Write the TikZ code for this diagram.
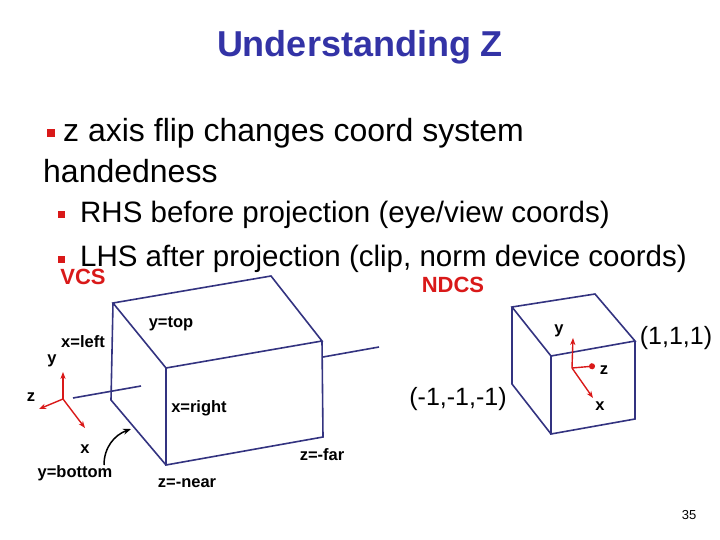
\documentclass[tikz,border=0pt]{standalone}
\usepackage{fontspec}
\setmainfont{Liberation Sans}
\usetikzlibrary{arrows.meta}
\definecolor{navy}{rgb}{0.2,0.2,0.5}
\definecolor{titleblue}{rgb}{0.2,0.2,0.65}
\definecolor{slidered}{rgb}{0.85,0.1,0.1}
\tikzset{
  edge/.style={navy,line width=1.6pt},
  axis/.style={slidered,line width=1.4pt,-{Stealth[length=7pt]}},
  lbl/.style={font=\bfseries\fontsize{16.5}{16.5}\selectfont,inner sep=0pt},
  bullet/.style={fill=slidered,minimum size=8pt,inner sep=0pt},
}
\begin{document}
\begin{tikzpicture}[x=1pt,y=-1pt]
\useasboundingbox (0,0) rectangle (720,540);
% title and bullets
\node[titleblue,font=\bfseries\fontsize{36}{36}\selectfont] (title) at (360,47) {Understanding Z};
\node[bullet] (b1) at (51,133) {};
\node[anchor=west,inner sep=0pt,font=\fontsize{32}{32}\selectfont] (t1) at (63,133) {z axis flip changes coord system};
\node[anchor=west,inner sep=0pt,font=\fontsize{32}{32}\selectfont] (t1b) at (43,171) {handedness};
\node[bullet,minimum size=7pt] (b2) at (61,215) {};
\node[anchor=west,inner sep=0pt,font=\fontsize{29.5}{29.5}\selectfont] (t2) at (80,215) {RHS before projection (eye/view coords)};
\node[bullet,minimum size=7pt] (b3) at (61,259) {};
\node[anchor=west,inner sep=0pt,font=\fontsize{29.5}{29.5}\selectfont] (t3) at (80,259) {LHS after projection (clip, norm device coords)};
\node[slidered,font=\bfseries\fontsize{22}{22}\selectfont] (vcs) at (83,277) {VCS};
\node[slidered,font=\bfseries\fontsize{22}{22}\selectfont] (ndcs) at (453,285) {NDCS};
% view volume
\coordinate (A) at (113,303); \coordinate (B) at (271,276);
\coordinate (C) at (322,341); \coordinate (D) at (166,368);
\coordinate (E) at (166,465); \coordinate (F) at (323,437);
\coordinate (G) at (111,400);
\draw[edge] (A) -- (B) -- (C) -- (D) -- cycle;
\draw[edge] (D) -- (E) -- (F) -- (C);
\draw[edge] (A) -- (G) -- (E);
\coordinate (la) at (73,398); \coordinate (lb) at (141,386);
\coordinate (ra) at (323,357); \coordinate (rb) at (379,347);
\draw[edge] (la) -- (lb);
\draw[edge] (ra) -- (rb);
% NDC cube
\coordinate (P) at (512,307); \coordinate (Q) at (595,294);
\coordinate (R) at (635,341); \coordinate (S) at (551,356);
\coordinate (T) at (551,434); \coordinate (U) at (635,419);
\coordinate (V) at (512,384);
\draw[edge] (P) -- (Q) -- (R) -- (S) -- cycle;
\draw[edge] (S) -- (T) -- (U) -- (R);
\draw[edge] (P) -- (V) -- (T);
% axes
\coordinate (o1) at (63,399);
\draw[axis] (o1) -- (63,372);
\draw[axis] (o1) -- (39,409);
\draw[axis] (o1) -- (85,428);
\coordinate (o2) at (572,368);
\draw[axis] (o2) -- (573,338);
\draw[axis,-{Circle[length=6pt]}] (o2) -- (595,366);
\draw[axis] (o2) -- (593,398);
% curved pointer
\coordinate (cp) at (131,429);
\node[lbl] (yb) at (75,473) {y=bottom};
\draw[line width=1.5pt,-{Stealth[length=8pt]}] (104,465) to[out=90,in=200] (cp);
% labels
\node[lbl] (ytop) at (171,324) {y=top};
\node[lbl] (xl) at (83,342) {x=left};
\node[lbl] (y1) at (52,361) {y};
\node[lbl] (z1) at (31,397) {z};
\node[lbl] (x1) at (85,449) {x};
\node[lbl] (zn) at (187,483) {z=-near};
\node[lbl] (zf) at (322,455) {z=-far};
\node[lbl] (xr) at (199,408) {x=right};
\node[inner sep=0pt,font=\fontsize{25}{25}\selectfont] (m1) at (458,399) {(-1,-1,-1)};
\node[inner sep=0pt,font=\fontsize{25}{25}\selectfont] (p1) at (676,338) {(1,1,1)};
\node[lbl] (y2) at (559,331) {y};
\node[lbl] (z2) at (604,370) {z};
\node[lbl] (x2) at (600,406) {x};
\node[inner sep=0pt,font=\fontsize{13}{13}\selectfont] (pg) at (689,515) {35};
\end{tikzpicture}
\end{document}
